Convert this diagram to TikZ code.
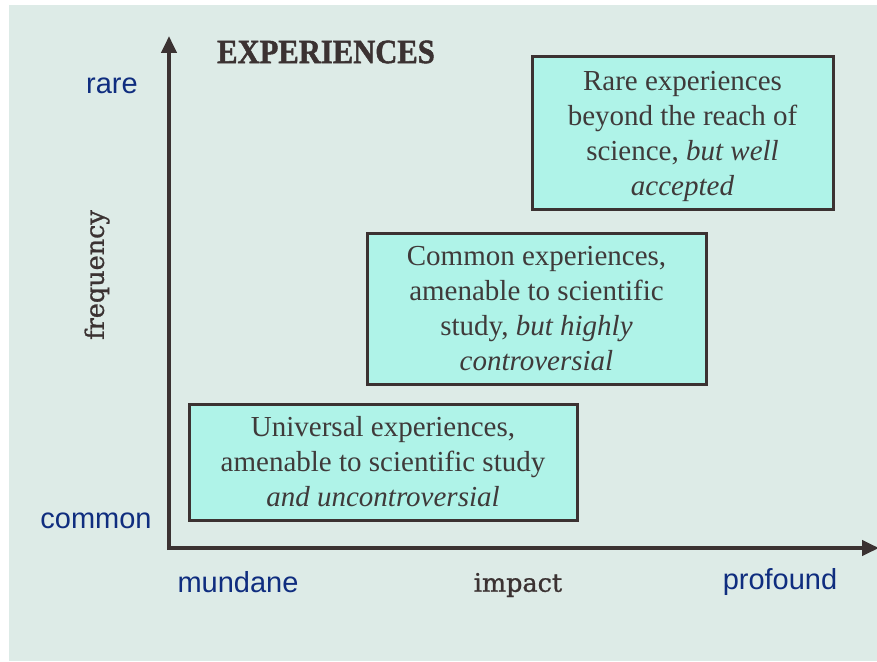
\documentclass[tikz,border=0pt]{standalone}
\usepackage{fontspec}
\usepackage{graphicx}
\setmainfont{Liberation Serif}
\newfontfamily\labfont{Liberation Sans}
\newfontfamily\slabfont[FakeBold=1]{DejaVu Serif}
\newfontfamily\titlefont[FakeBold=1.5]{Liberation Serif Bold}
\usetikzlibrary{arrows.meta}
\definecolor{bgc}{HTML}{DDEBE7}
\definecolor{boxc}{HTML}{AFF3E8}
\definecolor{linec}{HTML}{3B3232}
\definecolor{txtc}{HTML}{3F3A3A}
\definecolor{bluec}{HTML}{0F2D7F}
\tikzset{
  qbox/.style={draw=linec, line width=3pt, fill=boxc, text=txtc, align=center,
    inner sep=0pt, font=\fontsize{29}{35}\selectfont},
  axislab/.style={text=bluec, font=\labfont\fontsize{29}{32}\selectfont, inner sep=0pt},
  axisname/.style={text=linec, font=\slabfont\fontsize{25.5}{28}\selectfont, inner sep=0pt},
  axisline/.style={draw=linec, line width=4pt, -{Triangle[length=17pt,width=15pt]}}
}
\begin{document}
\begin{tikzpicture}[x=1pt,y=-1pt]
\useasboundingbox (0,0) rectangle (877,661);
\fill[white] (0,0) rectangle (877,661);
\fill[bgc] (9,5) rectangle (877,661);
% axes
\coordinate (o) at (169,548);
\coordinate (ytop) at (169,36);
\coordinate (xend) at (879,548);
\draw[axisline] ([yshift=-2pt]o) -- (ytop);
\draw[axisline] ([xshift=-2pt]o) -- (xend);
% title
\node[text=linec, inner sep=0pt] (title) at (326,52)
  {\scalebox{0.9}[1]{\titlefont\fontsize{34}{36}\selectfont EXPERIENCES}};
% axis labels
\node[axislab] (rare) at (112,86) {rare};
\node[axislab] (common) at (96,521) {common};
\node[axislab] (mundane) at (238,582) {mundane};
\node[axislab] (profound) at (780,582) {profound};
\node[axisname] (impact) at (518,585) {impact};
\node[axisname, rotate=90] (freq) at (97,275) {frequency};
% boxes
\node[qbox, minimum width=388pt, minimum height=116pt] (b1) at (383,462)
  {Universal experiences,\\amenable to scientific study\\\textit{and uncontroversial}};
\node[qbox, minimum width=339pt, minimum height=151pt] (b2) at (536.5,308.5)
  {Common experiences,\\amenable to scientific\\study, \textit{but highly}\\\textit{controversial}};
\node[qbox, minimum width=301pt, minimum height=152pt] (b3) at (682.5,133)
  {\rule{0pt}{26pt}Rare experiences\\beyond the reach of\\science, \textit{but well}\\\textit{accepted}};
\end{tikzpicture}
\end{document}
